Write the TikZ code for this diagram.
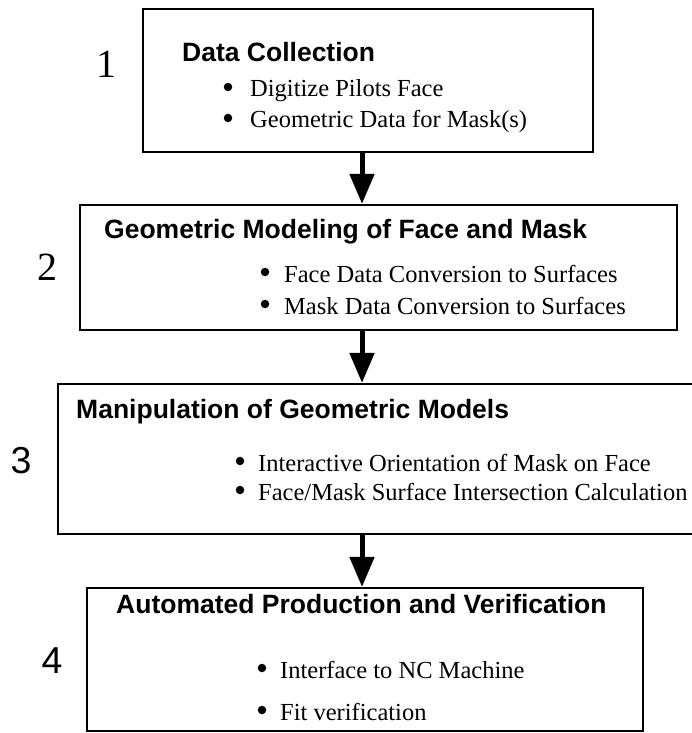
\documentclass[tikz,border=0pt]{standalone}
\usepackage{fontspec}
\setmainfont{Liberation Serif}
\newfontfamily\headfont{Liberation Sans}
\usetikzlibrary{arrows.meta}
\begin{document}
\begin{tikzpicture}[x=1pt,y=-1pt,
  stagebox/.style={draw, line width=2.2pt, inner sep=0pt},
  title/.style={anchor=base west, inner sep=0pt,
    font=\headfont\bfseries\fontsize{26.5}{30}\selectfont},
  item/.style={anchor=base west, inner sep=0pt, font=\fontsize{24.5}{28}\selectfont},
  dot/.style={circle, fill, inner sep=0pt, minimum size=8.5pt},
  serifno/.style={anchor=base, inner sep=0pt, font=\fontsize{40}{44}\selectfont},
  sansno/.style={anchor=base, inner sep=0pt, font=\headfont\fontsize{37.5}{42}\selectfont},
  flow/.style={line width=5pt, -{Triangle[width=24pt,length=30pt]}}
]
\clip (0,0) rectangle (692,733);

% stage frames
\node[stagebox, minimum width=450pt, minimum height=143pt] (b1) at (368,80.5) {};
\node[stagebox, minimum width=597pt, minimum height=125pt] (b2) at (378.5,267.5) {};
\node[stagebox, minimum width=638pt, minimum height=150pt] (b3) at (377,459) {};
\node[stagebox, minimum width=556pt, minimum height=143pt] (b4) at (365,659.5) {};

% stage numbers
\node[serifno] (n1) at (106,78) {1};
\node[serifno] (n2) at (47,280) {2};
\node[sansno] (n3) at (21,473) {3};
\node[sansno] (n4) at (52,673) {4};

% stage 1
\node[title] (t1) at (182,62) {Data Collection};
\node[dot] (d11) at (228,87) {};
\node[item] (i11) at (250,97) {Digitize Pilots Face};
\node[dot] (d12) at (228,118) {};
\node[item] (i12) at (250,128) {Geometric Data for Mask(s)};

% stage 2
\node[title] (t2) at (104,238) {Geometric Modeling of Face and Mask};
\node[dot] (d21) at (265,272) {};
\node[item] (i21) at (284,282) {Face Data Conversion to Surfaces};
\node[dot] (d22) at (265,304) {};
\node[item] (i22) at (284,314) {Mask Data Conversion to Surfaces};

% stage 3
\node[title] (t3) at (76,418) {Manipulation of Geometric Models};
\node[dot] (d31) at (240,461) {};
\node[item] (i31) at (258,471) {Interactive Orientation of Mask on Face};
\node[dot] (d32) at (240,490) {};
\node[item] (i32) at (258,500) {Face/Mask Surface Intersection Calculation};

% stage 4
\node[title] (t4) at (116,613) {Automated Production and Verification};
\node[dot] (d41) at (262,668) {};
\node[item] (i41) at (280,678) {Interface to NC Machine};
\node[dot] (d42) at (262,710) {};
\node[item] (i42) at (280,720) {Fit verification};

% flow between stages
\coordinate (axis) at (362,0);
\draw[flow] (b1.south -| axis) -- (b2.north -| axis);
\draw[flow] (b2.south -| axis) -- (b3.north -| axis);
\draw[flow] (b3.south -| axis) -- (b4.north -| axis);
\end{tikzpicture}
\end{document}
